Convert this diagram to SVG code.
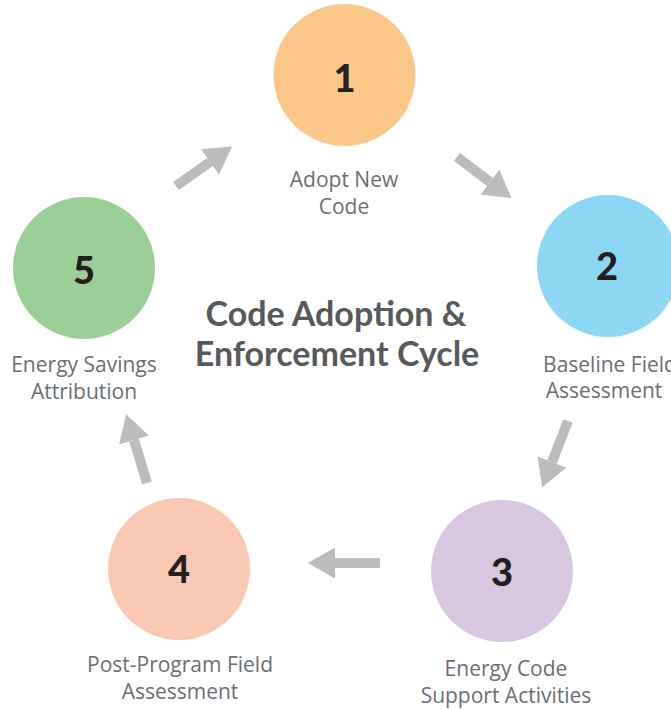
<svg xmlns="http://www.w3.org/2000/svg" width="671" height="709" viewBox="0 0 671 709">
<style>
.num{font-family:Lato,"Open Sans",sans-serif;font-weight:900;font-size:38px;fill:#231f20;text-anchor:middle}
.lbl{font-family:"Open Sans","Liberation Sans",sans-serif;font-size:21px;fill:#6d6e71;text-anchor:middle}
.title{font-family:Lato,"Open Sans",sans-serif;font-weight:bold;font-size:34px;fill:#58595b;text-anchor:middle}
.arr{stroke:#bdbbbb;stroke-width:10;fill:none;marker-end:url(#head)}
</style>
<defs>
<marker id="head" markerUnits="userSpaceOnUse" markerWidth="27" markerHeight="31" refX="0" refY="15.5" orient="auto" viewBox="0 0 27 31">
<path d="M0,0 L27,15.5 L0,31 Z" fill="#bdbbbb"/>
</marker>
</defs>
<rect width="671" height="709" fill="#ffffff"/>
<g id="connectors">
<line class="arr" x1="457" y1="157" x2="490" y2="182"/>
<line class="arr" x1="568" y1="421" x2="552" y2="462"/>
<line class="arr" x1="380" y1="563" x2="335" y2="563"/>
<line class="arr" x1="147" y1="483" x2="134" y2="440"/>
<line class="arr" x1="176" y1="186" x2="210" y2="162"/>
</g>
<g id="node1">
<circle cx="344.5" cy="75" r="71" fill="#fcc88a"/>
<text class="num" x="344.5" y="92">1</text>
<text class="lbl" x="344" y="187">Adopt New</text>
<text class="lbl" x="344" y="214">Code</text>
</g>
<g id="node2">
<circle cx="608" cy="266" r="71" fill="#8dd7f5"/>
<text class="num" x="607" y="280">2</text>
<text class="lbl" x="610" y="372">Baseline Field</text>
<text class="lbl" x="604" y="398">Assessment</text>
</g>
<g id="node3">
<circle cx="502" cy="571" r="71" fill="#d8c7e1"/>
<text class="num" x="502" y="586">3</text>
<text class="lbl" x="506" y="676">Energy Code</text>
<text class="lbl" x="506" y="703">Support Activities</text>
</g>
<g id="node4">
<circle cx="179" cy="569" r="71" fill="#fbc9b3"/>
<text class="num" x="179" y="583">4</text>
<text class="lbl" x="180" y="672">Post-Program Field</text>
<text class="lbl" x="180" y="699">Assessment</text>
</g>
<g id="node5">
<circle cx="84" cy="268" r="71" fill="#9ccf98"/>
<text class="num" x="84" y="284">5</text>
<text class="lbl" x="84" y="372">Energy Savings</text>
<text class="lbl" x="84" y="399">Attribution</text>
</g>
<g id="title">
<text class="title" x="336" y="326">Code Adoption &amp;</text>
<text class="title" x="337" y="366">Enforcement Cycle</text>
</g>
</svg>
